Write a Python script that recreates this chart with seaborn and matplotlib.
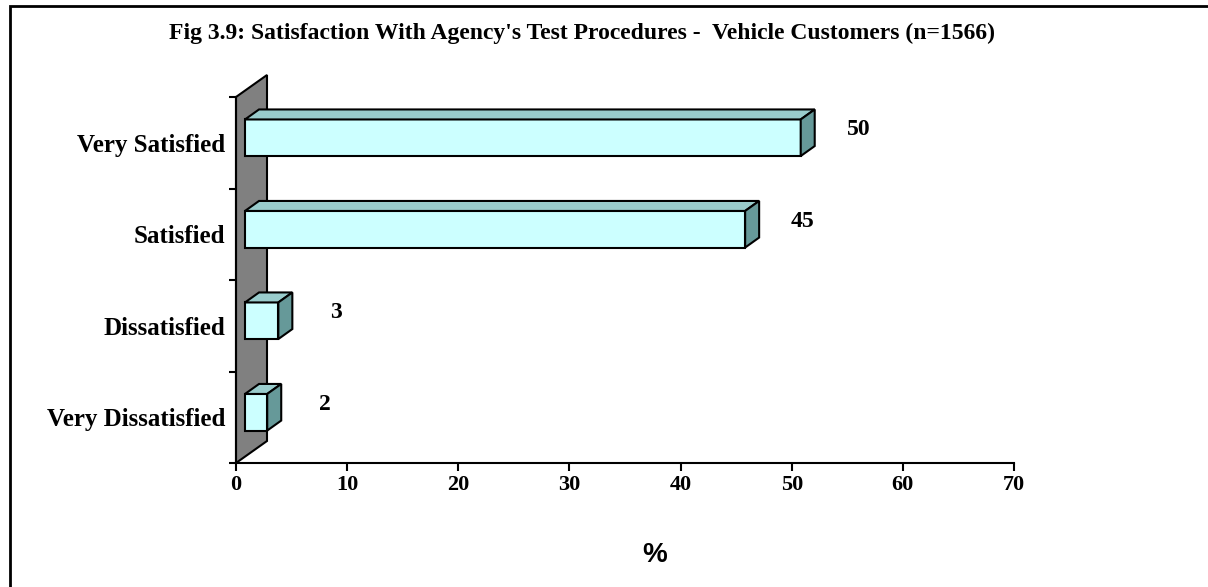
import matplotlib
matplotlib.use("Agg")
import matplotlib.pyplot as plt
from matplotlib.patches import Polygon, Rectangle
from matplotlib.transforms import ScaledTranslation
import seaborn as sns
import pandas as pd

categories = ["Very Satisfied", "Satisfied", "Dissatisfied", "Very Dissatisfied"]
percent = [50, 45, 3, 2]
x_ticks = [0, 10, 20, 30, 40, 50, 60, 70]
title = "Fig 3.9: Satisfaction With Agency's Test Procedures -  Vehicle Customers (n=1566)"

FRONT = "#CCFFFF"
TOP = "#99CCCC"
SIDE = "#669999"
WALL = "#808080"

sns.set_theme(style="white")
plt.rcParams["font.family"] = ["Liberation Serif", "DejaVu Serif"]
plt.rcParams["text.color"] = "black"

W, H = 1208, 587
fig = plt.figure(figsize=(W / 100, H / 100), dpi=100)
ax = fig.add_axes([236 / W, 1 - 463 / H, 778 / W, 366 / H])

df = pd.DataFrame({"cat": categories, "pct": percent})
sns.barplot(data=df, x="pct", y="cat", orient="h", width=0.4, color=FRONT,
            saturation=1, edgecolor="black", linewidth=1.5, ax=ax, zorder=3)
ax.set_xlim(0, 70)
ax.set_ylim(3.5, -0.5)

to_px = ax.transData.transform
inv = ax.transData.inverted().transform

# pixel offsets for the fake 3d look
wall_d = (31, 22)
shift = (9, 5)
depth = (14, 10)

# back wall
(fx, fb), (_, ft) = to_px((0, 3.5)), to_px((0, -0.5))
wall = [(fx, fb), (fx, ft), (fx + wall_d[0], ft + wall_d[1]), (fx + wall_d[0], fb + wall_d[1])]
ax.add_patch(Polygon(inv(wall), closed=True, fc=WALL, ec="black", lw=1.5,
                     clip_on=False, zorder=1))

off = ScaledTranslation(shift[0] / 100, shift[1] / 100, fig.dpi_scale_trans)
for p in ax.patches[:]:
    if not isinstance(p, Rectangle):
        continue
    x0, y0, w, h = p.get_x(), p.get_y(), p.get_width(), p.get_height()
    (X0, Ya), (X1, Yb) = to_px((x0, y0)), to_px((x0 + w, y0 + h))
    T, B = max(Ya, Yb), min(Ya, Yb)
    X0 += shift[0]; X1 += shift[0]; T += shift[1]; B += shift[1]
    top = [(X0, T), (X1, T), (X1 + depth[0], T + depth[1]), (X0 + depth[0], T + depth[1])]
    side = [(X1, B), (X1 + depth[0], B + depth[1]), (X1 + depth[0], T + depth[1]), (X1, T)]
    ax.add_patch(Polygon(inv(top), closed=True, fc=TOP, ec="black", lw=1.5,
                         clip_on=False, zorder=3))
    ax.add_patch(Polygon(inv(side), closed=True, fc=SIDE, ec="black", lw=1.5,
                         clip_on=False, zorder=3))
    p.set_transform(ax.transData + off)
    p.set_clip_on(False)

for i, v in enumerate(percent):
    ax.text(v + 6, i - 0.14, str(v), ha="center", va="center", color="black",
            fontsize=17, fontweight="bold", zorder=4)

sns.despine(ax=ax, top=True, right=True)
for s in ["left", "bottom"]:
    ax.spines[s].set_color("black")
    ax.spines[s].set_linewidth(1.5)
ax.set_xticks(x_ticks)
ax.set_yticks(range(len(categories)))
ax.set_yticks([i - 0.5 for i in range(len(categories) + 1)], minor=True)
ax.tick_params(axis="x", bottom=True, length=6, width=1.5, color="black", pad=3,
               labelsize=16)
ax.tick_params(axis="y", which="major", left=True, length=0, pad=8, labelsize=18)
ax.tick_params(axis="y", which="minor", left=True, length=5, width=1.5, color="black")
for lab in ax.get_xticklabels() + ax.get_yticklabels():
    lab.set_fontweight("bold")
    lab.set_color("black")
ax.set_xlabel("")
ax.set_ylabel("")
ax.grid(False)

fig.text(582 / W, 1 - 33 / H, title, ha="center", va="center", color="black",
         fontsize=17, fontweight="bold")
fig.text(655 / W, 1 - 555 / H, "%", ha="center", va="center", color="black",
         fontsize=20, fontweight="bold", family="Liberation Sans")

fig.add_artist(Rectangle((10 / W, -0.5), 2, 1.5 - 6 / H, transform=fig.transFigure,
                         fill=False, ec="black", lw=2))

fig.savefig("out.png", dpi=100)
